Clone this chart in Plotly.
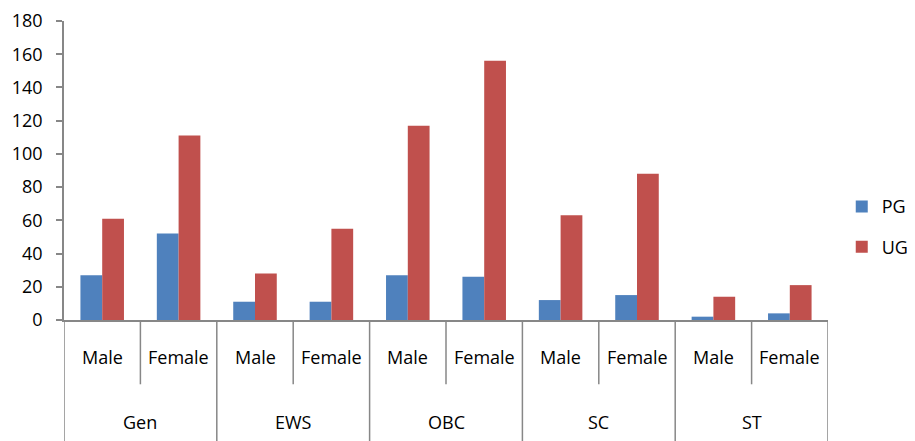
import plotly.graph_objects as go

groups = ["Gen", "EWS", "OBC", "SC", "ST"]
genders = ["Male", "Female"]
pg = [27, 52, 11, 11, 27, 26, 12, 15, 2, 4]
ug = [61, 111, 28, 55, 117, 156, 63, 88, 14, 21]
y_ticks = [0, 20, 40, 60, 80, 100, 120, 140, 160, 180]

cats = [f"{g} {s}" for g in groups for s in genders]
xpos = list(range(len(cats)))

FONT = "Open Sans"
AX = "#878787"

fig = go.Figure()
fig.add_trace(go.Bar(x=xpos, y=pg, name="PG", marker=dict(color="#4F81BD", line=dict(width=0)), legendgroup="a"))
fig.add_trace(go.Bar(x=xpos, y=ug, name="UG", marker=dict(color="#C0504D", line=dict(width=0)), legendgroup="b"))

shapes = []
n = len(cats)
for i in range(n + 1):
    outer = (i % 2 == 0)
    shapes.append(dict(type="line", xref="x", yref="paper", x0=i - 0.5, x1=i - 0.5,
                       y0=0, y1=-0.41 if outer else -0.215,
                       line=dict(color=AX, width=1.5)))

annotations = []
for i, c in enumerate(cats):
    annotations.append(dict(x=i, y=-0.1227, xref="x", yref="paper", text=genders[i % 2],
                            showarrow=False, yanchor="middle", font=dict(family=FONT, size=18, color="#000")))
for gi, g in enumerate(groups):
    annotations.append(dict(x=gi * 2 + 0.5, y=-0.340, xref="x", yref="paper", text=g,
                            showarrow=False, yanchor="middle", font=dict(family=FONT, size=18, color="#000")))

fig.update_layout(
    width=907, height=433,
    margin=dict(l=56, r=87, t=13, b=121, autoexpand=False),
    plot_bgcolor="white", paper_bgcolor="white",
    barmode="group", bargap=0.43, bargroupgap=0,
    font=dict(family=FONT, size=18, color="#000"),
    shapes=shapes, annotations=annotations,
    legend=dict(x=1.018, xanchor="left", y=0.312, yanchor="middle",
                font=dict(family=FONT, size=18, color="#000"),
                tracegroupgap=14, itemwidth=30),
    showlegend=True,
)
fig.update_xaxes(range=[-0.5, n - 0.5], showticklabels=False, showgrid=False, zeroline=False,
                 showline=True, linecolor=AX, linewidth=1.5, ticks="", automargin=False)
fig.update_yaxes(range=[0, 180], tickvals=y_ticks, showgrid=False, zeroline=False,
                 showline=True, linecolor=AX, linewidth=1.5, ticks="outside", ticklen=6,
                 tickcolor=AX, tickwidth=1.5, ticklabelstandoff=10, automargin=False,
                 tickfont=dict(family=FONT, size=18, color="#000"))

fig.write_html("out.html")
